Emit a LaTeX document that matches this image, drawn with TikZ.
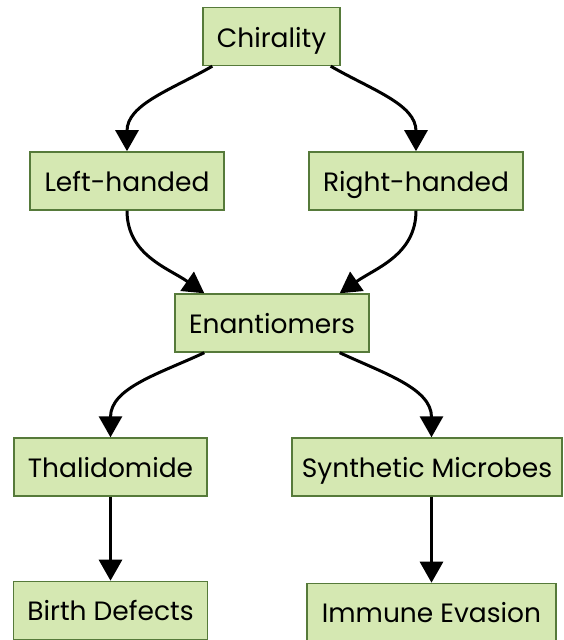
\documentclass[tikz,border=0pt]{standalone}
\usepackage{fontspec}
\setmainfont{Poppins}
\usetikzlibrary{positioning, arrows.meta}

\definecolor{boxfill}{RGB}{213,232,178}
\definecolor{boxline}{RGB}{86,122,58}

\begin{document}
\begin{tikzpicture}[
        x=1pt, y=1pt,
        box/.style={draw=boxline, fill=boxfill, line width=1.4pt, minimum height=58pt, inner xsep=4pt, text height=21pt, text depth=0pt, font=\fontsize{26.5}{30}\selectfont},
        arrow/.style={-{Triangle[width=23pt,length=21pt]}, line width=3pt}
    ]
        \useasboundingbox (0,0) rectangle (564,-640);

        \node[box,minimum width=137pt] (chirality) at (271.5,-36.5) {Chirality};
        \node[box,minimum width=194pt,below=85pt of chirality,xshift=-144.5pt] (left_hand) {Left-handed};
        \node[box,minimum width=214pt,below=85pt of chirality,xshift=144.5pt] (right_hand) {Right-handed};

        \node[box,minimum width=194pt] (enantiomers) at (272,-323) {Enantiomers};
        \node[box,minimum width=193pt] (thalidomide) at (110.5,-467) {Thalidomide};
        \node[box,minimum width=270pt] (microbes) at (427,-467) {Synthetic Microbes};

        \node[box,minimum width=194pt,below=84pt of thalidomide] (defects) {Birth Defects};
        \node[box,minimum width=249pt,below=86pt of microbes,xshift=4.5pt] (evasion) {Immune Evasion};

        \draw[arrow] ([xshift=10pt]chirality.south west) to[out=-150,in=90] (left_hand.north);
        \draw[arrow] ([xshift=-10pt]chirality.south east) to[out=-30,in=90] (right_hand.north);
        \draw[arrow] (left_hand.south) to[out=-90,in=145] ([xshift=30pt]enantiomers.north west);
        \draw[arrow] (right_hand.south) to[out=-90,in=35] ([xshift=-30pt]enantiomers.north east);
        \draw[arrow] ([xshift=30pt]enantiomers.south west) to[out=-155,in=90] (thalidomide.north);
        \draw[arrow] ([xshift=-30pt]enantiomers.south east) to[out=-25,in=90] ([xshift=4.5pt]microbes.north);
        \draw[arrow] (thalidomide) -- (defects);
        \draw[arrow] ([xshift=4.5pt]microbes.south) -- (evasion);
    \end{tikzpicture}
\end{document}
